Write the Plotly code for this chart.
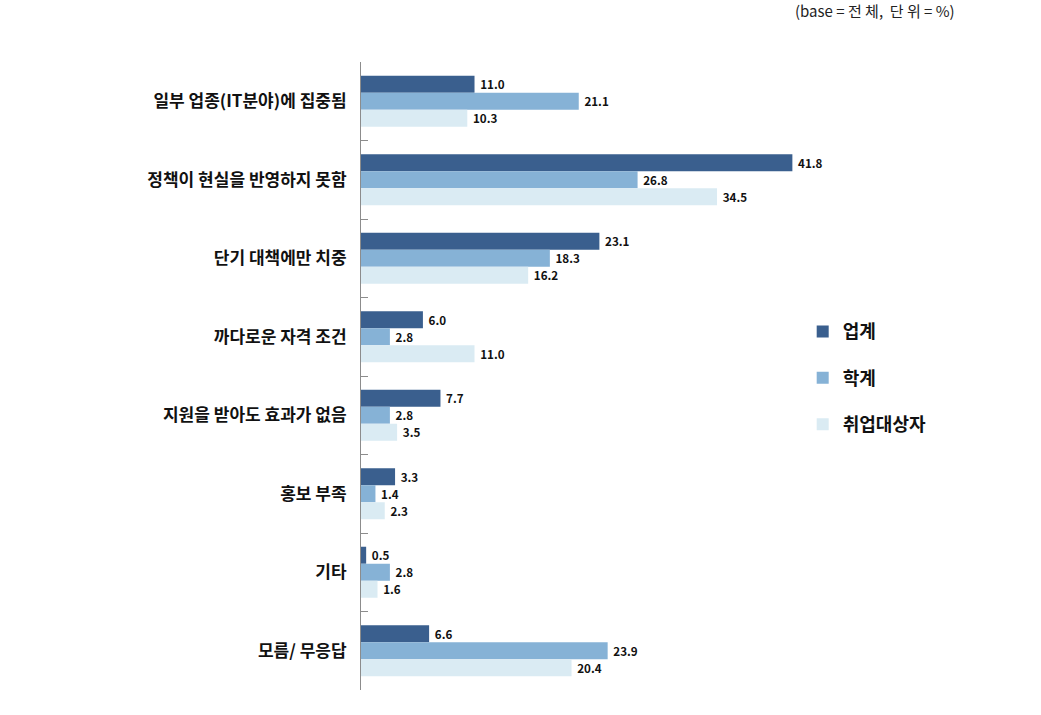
import plotly.graph_objects as go

categories = ["일부 업종(IT분야)에 집중됨", "정책이 현실을 반영하지 못함", "단기 대책에만 치중",
              "까다로운 자격 조건", "지원을 받아도 효과가 없음", "홍보 부족", "기타", "모름/ 무응답"]
series_names = ["업계", "학계", "취업대상자"]
industry = [11.0, 41.8, 23.1, 6.0, 7.7, 3.3, 0.5, 6.6]
academia = [21.1, 26.8, 18.3, 2.8, 2.8, 1.4, 2.8, 23.9]
job_seekers = [10.3, 34.5, 16.2, 11.0, 3.5, 2.3, 1.6, 20.4]
colors = ["#3A5F8E", "#86B2D6", "#DAEBF3"]

fig = go.Figure()
for i, (name, vals) in enumerate(zip(series_names, [industry, academia, job_seekers])):
    fig.add_trace(go.Bar(
        y=categories, x=vals, orientation="h", name=name,
        marker=dict(color=colors[i], line=dict(width=0)),
        text=[f" {v:.1f}" for v in vals], textposition="outside",
        textfont=dict(family="Noto Sans CJK KR", size=13, color="#111111", weight="bold"),
        cliponaxis=False, legendgroup=f"g{i}",
    ))

fig.update_layout(
    width=1041, height=715,
    margin=dict(l=361, r=163.5, t=62, b=25),
    plot_bgcolor="white", paper_bgcolor="white",
    barmode="group", bargap=0.35, bargroupgap=0,
    font=dict(family="Noto Sans CJK KR", color="#222222"),
    xaxis=dict(range=[0, 50], visible=False, showgrid=False, zeroline=False),
    yaxis=dict(autorange="reversed", type="category", showline=True, linecolor="#8c8c8c", linewidth=1,
               ticks="inside", ticklen=7, tickcolor="#8c8c8c", tickson="boundaries",
               tickfont=dict(size=17, color="#111111", weight="bold"), ticklabelstandoff=10,
               showgrid=False),
    legend=dict(x=0.856, y=0.6, xanchor="left", yanchor="top", tracegroupgap=20,
                font=dict(size=18, color="#111111", weight="bold"), traceorder="grouped",
                itemwidth=30, bgcolor="rgba(0,0,0,0)"),
    showlegend=True,
)
fig.add_annotation(text="(base = 전 체,  단 위 = %)", xref="paper", yref="paper",
                   x=(958 - 361) / 516.5, y=1 + (62 - 10) / 628, xanchor="right", yanchor="middle",
                   showarrow=False, font=dict(size=15, color="#222222"))
fig.write_html("out.html")
